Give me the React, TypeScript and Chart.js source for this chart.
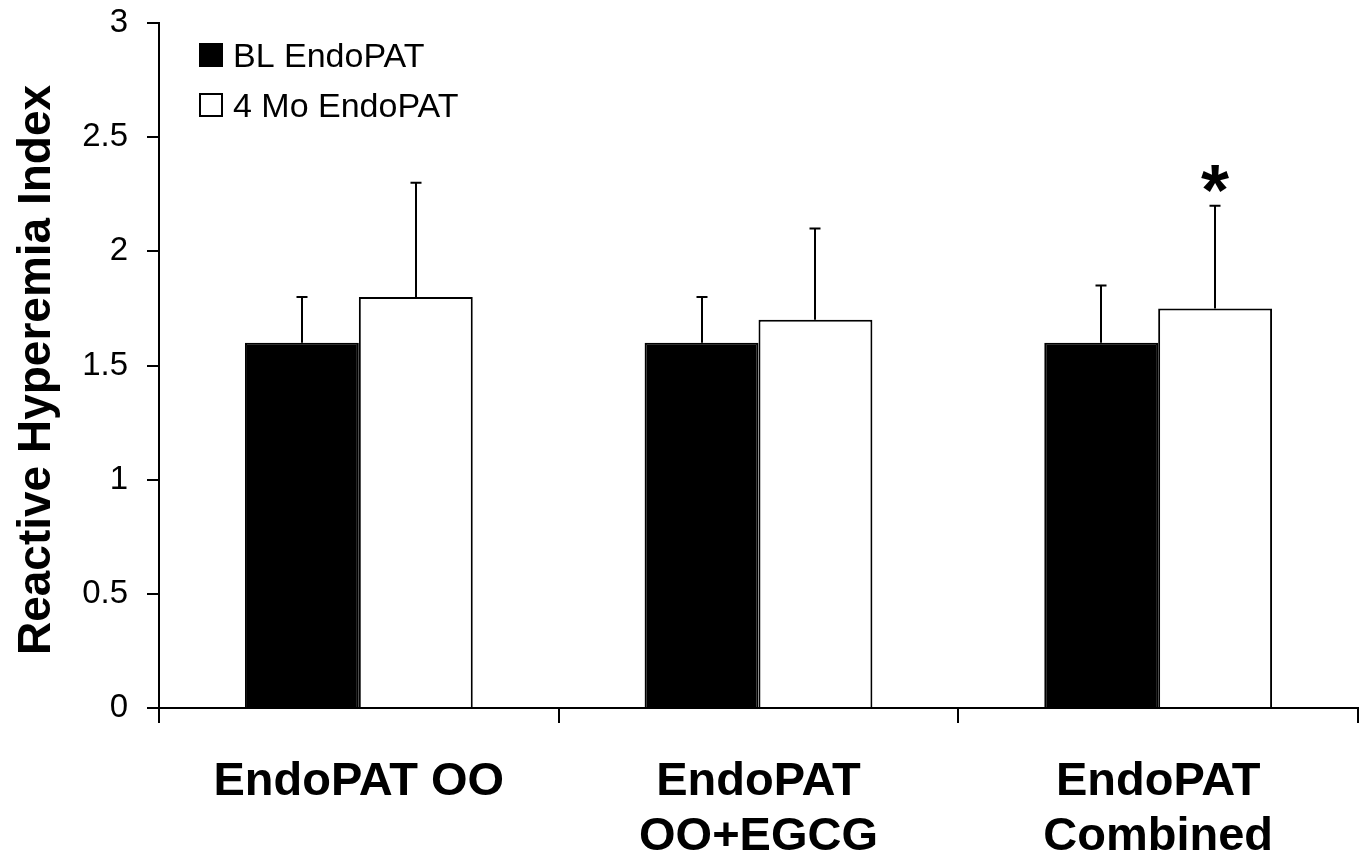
import React, { useEffect, useRef } from "react";
import { Chart, registerables } from "chart.js";

Chart.register(...registerables);

const categories: string[][] = [["EndoPAT OO"], ["EndoPAT", "OO+EGCG"], ["EndoPAT", "Combined"]];
const seriesNames = ["BL EndoPAT", "4 Mo EndoPAT"];
const blValues = [1.6, 1.6, 1.6];
const blErrors = [0.2, 0.2, 0.25];
const moValues = [1.8, 1.7, 1.75];
const moErrors = [0.5, 0.4, 0.45];
const moMarks = ["", "", "*"];
const yTickLabels = ["0", "0.5", "1", "1.5", "2", "2.5", "3"];
const yTitle = "Reactive Hyperemia Index";

const FONT = "'Liberation Sans', Arial, sans-serif";

const errorBarPlugin = {
  id: "errorBars",
  afterDatasetsDraw(chart: any) {
    const ctx = chart.ctx;
    const yScale = chart.scales.y;
    const errs = [blErrors, moErrors];
    const vals = [blValues, moValues];
    ctx.save();
    ctx.strokeStyle = "#000";
    ctx.lineWidth = 2;
    chart.data.datasets.forEach((_: any, di: number) => {
      const meta = chart.getDatasetMeta(di);
      meta.data.forEach((bar: any, i: number) => {
        const x = Math.round(bar.x);
        const yTop = yScale.getPixelForValue(vals[di][i]);
        const yErr = yScale.getPixelForValue(vals[di][i] + errs[di][i]);
        ctx.beginPath();
        ctx.moveTo(x, yTop);
        ctx.lineTo(x, yErr);
        ctx.moveTo(x - 5.5, yErr);
        ctx.lineTo(x + 5.5, yErr);
        ctx.stroke();
        if (di === 1 && moMarks[i]) {
          ctx.font = `bold 72px ${FONT}`;
          ctx.fillStyle = "#000";
          ctx.textAlign = "left";
          ctx.textBaseline = "alphabetic";
          const m = ctx.measureText(moMarks[i]);
          const w = m.actualBoundingBoxRight + m.actualBoundingBoxLeft;
          const cx = x;
          const cy = yErr - 27;
          ctx.fillText(
            moMarks[i],
            cx - w / 2 + m.actualBoundingBoxLeft,
            cy + m.actualBoundingBoxAscent - (m.actualBoundingBoxAscent + m.actualBoundingBoxDescent) / 2
          );
        }
      });
    });
    ctx.restore();
  },
};

const legendTitlePlugin = {
  id: "legendTitle",
  afterDraw(chart: any) {
    const ctx = chart.ctx;
    ctx.save();
    ctx.translate(50, 370);
    ctx.rotate(-Math.PI / 2);
    ctx.font = `bold 46px ${FONT}`;
    ctx.fillStyle = "#000";
    ctx.textAlign = "center";
    ctx.textBaseline = "alphabetic";
    ctx.fillText(yTitle, 0, 0);
    ctx.restore();

    ctx.save();
    const fills = ["#000", "#fff"];
    seriesNames.forEach((name, i) => {
      const top = 43 + i * 50;
      ctx.fillStyle = fills[i];
      ctx.fillRect(199, top, 24, 24);
      ctx.strokeStyle = "#000";
      ctx.lineWidth = 2;
      ctx.strokeRect(200, top + 1, 22, 22);
      ctx.fillStyle = "#000";
      ctx.font = `34px ${FONT}`;
      ctx.textAlign = "left";
      ctx.textBaseline = "alphabetic";
      ctx.fillText(name, 233, top + 24);
    });
    ctx.restore();
  },
};

export default function App() {
  const ref = useRef<HTMLCanvasElement>(null);
  useEffect(() => {
    if (!ref.current) return;
    const chart = new Chart(ref.current, {
      type: "bar",
      data: {
        labels: categories,
        datasets: [
          {
            label: seriesNames[0],
            data: blValues,
            backgroundColor: "#000",
            borderColor: "#000",
            borderWidth: 2,
            borderSkipped: "start",
            categoryPercentage: 0.57,
            barPercentage: 1.0,
          },
          {
            label: seriesNames[1],
            data: moValues,
            backgroundColor: "#fff",
            borderColor: "#000",
            borderWidth: 2,
            borderSkipped: "start",
            categoryPercentage: 0.57,
            barPercentage: 1.0,
          },
        ],
      },
      options: {
        animation: false,
        responsive: true,
        maintainAspectRatio: false,
        layout: { padding: { top: 23, right: 7, left: 0, bottom: 0 } },
        plugins: {
          legend: { display: false },
          tooltip: { enabled: false },
        },
        scales: {
          x: {
            grid: {
              display: true,
              drawOnChartArea: false,
              drawTicks: true,
              tickLength: 15,
              color: "#000",
              lineWidth: 2,
              offset: true,
            },
            border: { display: true, color: "#000", width: 2 },
            ticks: {
              color: "#000",
              font: { family: FONT, size: 47, weight: "bold", lineHeight: 1.17 },
              padding: 32,
              maxRotation: 0,
              autoSkip: false,
            },
            afterFit(scale: any) {
              scale.height = 150;
              scale.paddingLeft = 0;
              scale.paddingRight = 0;
            },
          },
          y: {
            min: 0,
            max: 3,
            grid: {
              display: true,
              drawOnChartArea: false,
              drawTicks: true,
              tickLength: 12,
              color: "#000",
              lineWidth: 2,
            },
            border: { display: true, color: "#000", width: 2 },
            ticks: {
              stepSize: 0.5,
              color: "#000",
              font: { family: FONT, size: 33 },
              padding: 19,
              callback: (_v: any, i: number) => yTickLabels[i],
            },
            afterFit(scale: any) {
              scale.width = 159;
              scale.paddingTop = 0;
              scale.paddingBottom = 0;
            },
          },
        },
      },
      plugins: [errorBarPlugin, legendTitlePlugin],
    });
    return () => chart.destroy();
  }, []);
  return (
    <div style={{ position: "fixed", left: 0, top: 0, width: 1365, height: 858, background: "#fff" }}>
      <canvas ref={ref} />
    </div>
  );
}
